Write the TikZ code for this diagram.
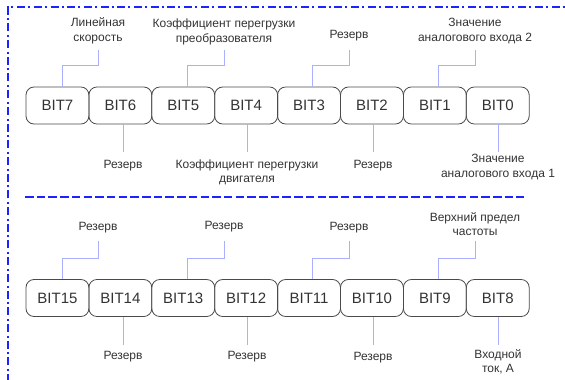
\documentclass[tikz,border=0pt]{standalone}
\usepackage{fontspec}
\setmainfont{Liberation Sans}
\definecolor{txt}{HTML}{333333}
\definecolor{boxc}{HTML}{4A4A4A}
\definecolor{conc}{HTML}{AAB0FF}
\definecolor{frame}{HTML}{1E22FF}
\newcommand\lstr{\rule[-3pt]{0pt}{9pt}}
\tikzset{
  bitbox/.style={draw=boxc, line width=0.8pt, rounded corners=8pt, minimum width=62.9pt,
    minimum height=37pt, inner sep=0pt, text=txt, font=\fontsize{15}{18}\selectfont},
  lab/.style={align=center, inner xsep=0pt, text=txt, font=\fontsize{12}{14.3}\selectfont},
  conn/.style={draw=conc, line width=0.7pt},
  framebox/.style={draw=frame, line width=1.8pt, dash pattern=on 8pt off 3pt on 2pt off 3.7pt},
  midline/.style={draw=frame, line width=1.8pt, dash pattern=on 8.5pt off 3.2pt},
}
\begin{document}
\begin{tikzpicture}[x=1pt,y=-1pt]
\useasboundingbox (0,0) rectangle (565,380);
\draw[framebox] (8,382) -- (8,7) -- (567,7);
\draw[midline] (25,197) -- (524,197);
% top row
\foreach \n/\i in {b7/0,b6/1,b5/2,b4/3,b3/4,b2/5,b1/6,b0/7}{
  \pgfmathsetmacro\xx{57.45+62.9*\i}
  \pgfmathtruncatemacro\bb{7-\i}
  \node[bitbox] (\n) at (\xx,105.5) {BIT\bb};
}
\foreach \n/\i in {b15/0,b14/1,b13/2,b12/3,b11/4,b10/5,b9/6,b8/7}{
  \pgfmathsetmacro\xx{57.45+62.9*\i}
  \pgfmathtruncatemacro\bb{15-\i}
  \node[bitbox] (\n) at (\xx,298) {BIT\bb};
}
% upper labels, top row
\node[lab, anchor=south, inner ysep=5.6pt] (l7) at (98,50) {\lstr Линейная\\\lstr скорость};
\node[lab, anchor=south, inner ysep=4.6pt] (l5) at (224,50) {\lstr Коэффициент перегрузки\\\lstr преобразователя};
\node[lab, anchor=south, inner ysep=7.9pt] (l3) at (349,50) {\lstr Резерв};
\node[lab, anchor=south, inner ysep=5.6pt] (l1) at (475,50) {\lstr Значение\\\lstr аналогового входа 2};
% lower labels, top row
\node[lab, anchor=north, inner ysep=8.2pt] (l6) at (123,152) {\lstr Резерв};
\node[lab, anchor=north, inner ysep=7.2pt] (l4) at (247,152) {\lstr Коэффициент перегрузки\\\lstr двигателя};
\node[lab, anchor=north, inner ysep=8.2pt] (l2) at (373,152) {\lstr Резерв};
\node[lab, anchor=north, inner ysep=2.2pt] (l0) at (498,152) {\lstr Значение\\\lstr аналогового входа 1};
% upper labels, bottom row
\node[lab, anchor=south, inner ysep=7.6pt] (l15) at (98,241) {\lstr Резерв};
\node[lab, anchor=south, inner ysep=8.2pt] (l13) at (224,241) {\lstr Резерв};
\node[lab, anchor=south, inner ysep=7.6pt] (l11) at (349,241) {\lstr Резерв};
\node[lab, anchor=south, inner ysep=2.2pt] (l9) at (475,241) {\lstr Верхний предел\\\lstr частоты};
% lower labels, bottom row
\node[lab, anchor=north, inner ysep=5.9pt] (l14) at (123,345) {\lstr Резерв};
\node[lab, anchor=north, inner ysep=6.2pt] (l12) at (247,345) {\lstr Резерв};
\node[lab, anchor=north, inner ysep=7.5pt] (l10) at (373,345) {\lstr Резерв};
\node[lab, anchor=north, inner ysep=4.2pt] (l8) at (498,345) {\lstr Входной\\\lstr ток, А};
% connectors up
\foreach \b/\l/\dx in {b7/l7/4.5,b5/l5/3.8,b3/l3/3,b1/l1/3.2,b15/l15/4.5,b13/l13/3.8,b11/l11/3,b9/l9/3.2}{
  \draw[conn] ([xshift=\dx pt]\b.north) -- ++(0,-21) -| (\l.south);
}
% connectors down
\foreach \b/\l in {b6/l6,b4/l4,b2/l2,b0/l0,b14/l14,b12/l12,b10/l10,b8/l8}{
  \draw[conn] (\b.south -| \l.north) -- (\l.north);
}
\end{tikzpicture}
\end{document}
